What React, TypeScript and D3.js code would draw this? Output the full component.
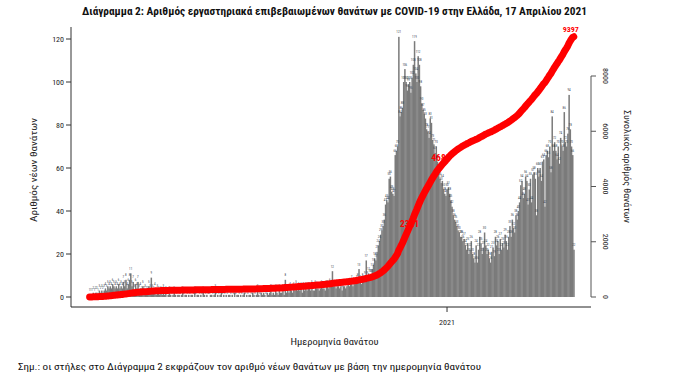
import React from 'react';
import * as d3 from 'd3';

const DAY = 86400000;
const firstDay = Date.UTC(2020, 2, 11);

// Daily new deaths by date of death (Mar 11, 2020 - Apr 16, 2021)
const mar2020 = [1,1,1,2,1,2,2,1,3,2,3,2,3,4,3,5,4,5,4,6,5];
const apr2020 = [4,5,4,6,4,5,4,7,5,8,4,6,8,11,5,7,3,6,4,7,3,4,2,5,2,3,2,2,5,3];
const may2020 = [9,3,2,4,1,3,2,1,2,1,3,1,2,0,1,2,1,0,1,2,1,0,1,1,0,1,2,0,1,1,0];
const jun2020 = [1,0,1,1,0,2,0,1,1,0,1,0,2,1,0,1,0,0,1,1,0,1,3,0,1,0,1,2,0,1];
const jul2020 = [0,1,0,1,1,0,1,0,2,0,1,1,0,1,0,1,2,0,1,0,1,1,0,2,1,0,1,3,1,0,2];
const aug2020 = [1,2,1,0,2,1,2,3,1,2,1,3,2,1,3,2,2,3,1,8,2,3,2,4,3,2,4,3,5,3,4];
const sep2020 = [3,4,2,4,3,4,3,4,4,3,5,3,3,5,4,4,3,4,5,4,4,3,5,5,4,6,5,12,5,5];
const oct2020 = [4,5,5,4,5,3,5,5,4,5,6,5,6,7,5,6,6,7,8,13,7,6,8,7,9,17,9,11,10,10,13];
const nov2020 = [15,18,17,21,24,26,29,31,33,36,43,45,44,55,56,49,48,47,66,68,70,121,84,86,88,100,106,100,96,99];
const dec2020 = [100,95,102,108,119,104,100,112,108,98,90,87,85,83,78,77,74,83,81,73,71,67,70,63,59,55,53,54,50,48,47];
const jan2021 = [50,51,48,45,42,38,36,35,33,31,30,28,28,26,27,24,22,25,20,22,26,20,18,16,24,16,22,28,25,20,23];
const feb2021 = [30,24,20,22,18,16,21,23,19,28,24,26,20,27,22,25,23,29,26,22,28,33,28,36,32,30,38,36];
const mar2021 = [40,44,52,54,46,48,56,54,43,50,55,44,57,58,55,38,60,56,60,54,63,64,42,66,68,65,70,58,84,68,72];
const apr2021 = [68,64,70,62,74,70,68,86,72,70,76,94,78,70,66,22];

const leftTicks = [0, 20, 40, 60, 80, 100, 120];
const rightTicks = [0, 2000, 4000, 6000, 8000];
const xTicks = [{ date: Date.UTC(2021, 0, 1), label: '2021' }];
const cumLabels = [
  { date: Date.UTC(2020, 10, 23), value: 2321, text: '2321' },
  { date: Date.UTC(2020, 11, 19), value: 4688, text: '4688' },
  { date: Date.UTC(2021, 3, 16), value: 9397, text: '9397' },
];

const titleText = 'Διάγραμμα 2: Αριθμός εργαστηριακά επιβεβαιωμένων θανάτων με COVID-19 στην Ελλάδα, 17 Απριλίου 2021';
const yLeftTitle = 'Αριθμός νέων θανάτων';
const yRightTitle = 'Συνολικός αριθμός θανάτων';
const xTitle = 'Ημερομηνία θανάτου';
const noteText = 'Σημ.: οι στήλες στο Διάγραμμα 2 εκφράζουν τον αριθμό νέων θανάτων με βάση την ημερομηνία θανάτου';

const FONT = '"Liberation Sans Narrow", "Roboto Condensed", "Liberation Sans", Arial, sans-serif';

export default function App() {
  const daily = [
    ...mar2020, ...apr2020, ...may2020, ...jun2020, ...jul2020, ...aug2020, ...sep2020,
    ...oct2020, ...nov2020, ...dec2020, ...jan2021, ...feb2021, ...mar2021, ...apr2021,
  ];
  const dates = daily.map((_, i) => new Date(firstDay + i * DAY));
  const cum = Array.from(d3.cumsum(daily));

  const x = d3.scaleUtc()
    .domain([new Date(firstDay - 15.4 * DAY), new Date(firstDay + 415.24 * DAY)])
    .range([71, 591]);
  const bw = x(new Date(firstDay + DAY)) - x(new Date(firstDay));
  const yL = d3.scaleLinear().domain([0, 120]).range([297, 39]);
  const yR = d3.scaleLinear().domain([0, 8000]).range([297, 76]);

  const linePath = d3.line<number>()
    .x((_, i) => x(dates[i]))
    .y((d) => yR(d))(cum) || '';

  return (
    <svg width={688} height={381} style={{ position: 'absolute', left: 0, top: 0, background: '#fff' }}
      fontFamily={FONT}>
      <rect x={0} y={0} width={688} height={381} fill="#fff" />
      <text x={334.5} y={15} textAnchor="middle" fontSize={11} fontWeight="bold" fill="#111"
        textLength={505} lengthAdjust="spacingAndGlyphs">{titleText}</text>

      {/* bars */}
      <g>
        {daily.map((v, i) => (
          <rect key={i} x={x(dates[i]) - bw / 2} y={yL(v)} width={bw + 0.3}
            height={Math.max(0, yL(0) - yL(v))} fill="#7b7b7b" />
        ))}
      </g>
      {/* bar value labels */}
      <g fontSize={3.2} fill="#34404c" textAnchor="middle">
        {daily.map((v, i) => (
          <text key={i} x={x(dates[i])} y={yL(v) - 3.5}>{v}</text>
        ))}
      </g>

      {/* left axis */}
      <line x1={71} x2={71} y1={27} y2={307} stroke="#333" strokeWidth={1} />
      {leftTicks.map((t) => (
        <g key={t}>
          <line x1={66} x2={71} y1={yL(t)} y2={yL(t)} stroke="#333" />
          <text x={64} y={yL(t)} dy="0.35em" textAnchor="end" fontSize={8} fill="#222">{t}</text>
        </g>
      ))}
      <text transform={`translate(37,170) rotate(-90)`} textAnchor="middle" fontSize={9} fill="#222"
        textLength={104} lengthAdjust="spacingAndGlyphs">{yLeftTitle}</text>

      {/* x axis */}
      <line x1={71} x2={591} y1={307} y2={307} stroke="#222" strokeWidth={1} />
      {xTicks.map((t) => (
        <g key={t.label}>
          <line x1={x(new Date(t.date))} x2={x(new Date(t.date))} y1={307} y2={312} stroke="#333" />
          <text x={x(new Date(t.date))} y={325} textAnchor="middle" fontSize={8} fill="#222">{t.label}</text>
        </g>
      ))}
      <text x={334.5} y={345} textAnchor="middle" fontSize={9} fill="#222"
        textLength={88} lengthAdjust="spacingAndGlyphs">{xTitle}</text>

      {/* right axis */}
      <line x1={591} x2={591} y1={yR(8000)} y2={yR(0)} stroke="#555" strokeWidth={1} />
      {rightTicks.map((t) => (
        <g key={t}>
          <line x1={591} x2={596} y1={yR(t)} y2={yR(t)} stroke="#555" />
          <text transform={`translate(606,${yR(t)}) rotate(90)`} textAnchor="middle" dy="0.35em"
            fontSize={8} fill="#222">{t}</text>
        </g>
      ))}
      <text transform={`translate(627.5,166.5) rotate(90)`} textAnchor="middle" dy="0.35em" fontSize={9}
        fill="#222" textLength={113} lengthAdjust="spacingAndGlyphs">{yRightTitle}</text>

      {/* cumulative labels */}
      {cumLabels.map((l, k) => {
        const last = k === cumLabels.length - 1;
        return (
          <text key={l.text} x={last ? x(new Date(l.date)) + 5 : x(new Date(l.date))}
            y={yR(l.value) - (last ? 5 : 6)} textAnchor={last ? 'end' : 'start'}
            fontSize={last ? 8 : 9.5} fontWeight="bold" fill="#ff0000">{l.text}</text>
        );
      })}

      {/* cumulative line */}
      <path d={linePath} fill="none" stroke="#ff0000" strokeWidth={7} strokeLinecap="round"
        strokeLinejoin="round" />

      <text x={18} y={370} fontSize={9.5} fill="#111" textLength={463}
        lengthAdjust="spacingAndGlyphs">{noteText}</text>
    </svg>
  );
}
